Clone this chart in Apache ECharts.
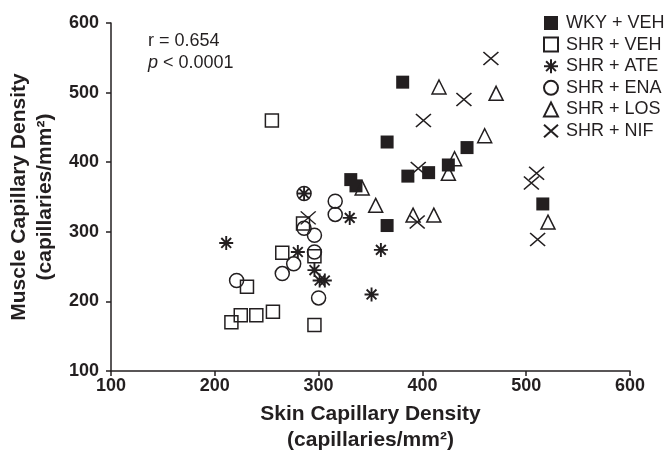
<!DOCTYPE html>
<html>
<head>
<meta charset="utf-8">
<script src="https://cdn.jsdelivr.net/npm/echarts@6/dist/echarts.min.js"></script>
<style>
  html, body { margin: 0; padding: 0; background: #fff; }
  #chart { width: 669px; height: 453px; }
</style>
</head>
<body>
<div id="chart"></div>
<script>
  // skin (x) / muscle (y) capillary density per group
  let groupNames = ['WKY + VEH', 'SHR + VEH', 'SHR + ATE', 'SHR + ENA', 'SHR + LOS', 'SHR + NIF']
  let wkyVehSkin = [381, 366, 443, 425, 386, 406, 331, 336, 366, 516]
  let wkyVehMuscle = [515, 429, 421, 396, 380, 385, 375, 366, 309, 340]
  let shrVehSkin = [255, 285, 265, 296, 231, 216, 225, 240, 256, 296]
  let shrVehMuscle = [460, 312, 270, 265, 221, 170, 180, 180, 185, 166]
  let shrAteSkin = [286, 330, 211, 280, 296, 301, 306, 360, 351]
  let shrAteMuscle = [355, 320, 284, 271, 245, 230, 230, 274, 210]
  let shrEnaSkin = [286, 316, 316, 286, 296, 296, 276, 265, 221, 300]
  let shrEnaMuscle = [355, 344, 325, 305, 295, 271, 254, 240, 230, 205]
  let shrLosSkin = [416, 471, 460, 431, 425, 342, 355, 391, 411, 521]
  let shrLosMuscle = [508, 499, 438, 405, 384, 363, 338, 324, 324, 314]
  let shrNifSkin = [466, 440, 401, 396, 290, 395, 510, 505, 511]
  let shrNifMuscle = [549, 490, 460, 391, 320, 314, 384, 370, 289]
  let xTicks = [100, 200, 300, 400, 500, 600]
  let yTicks = [100, 200, 300, 400, 500, 600]

  let ink = '#231f20'
  let font = '"Liberation Sans", Arial, sans-serif'

  function pairs(xs, ys) {
    return xs.map((v, i) => [v, ys[i]])
  }

  function makeSeries(name, xs, ys, symbol, size, filled, lw) {
    return {
      name: name,
      type: 'scatter',
      symbol: symbol,
      symbolSize: size,
      itemStyle: {
        color: filled ? ink : 'rgba(255,255,255,0)',
        borderColor: ink,
        borderWidth: filled ? 0 : (lw || 1.5),
        opacity: 1
      },
      emphasis: { disabled: true },
      data: pairs(xs, ys)
    }
  }

  let star = 'path://M0,-10L0,10M-10,0L10,0M-7,-7L7,7M-7,7L7,-7'
  let cross = 'path://M-10,-9L10,9M-10,9L10,-9'

  let myChart = echarts.init(document.getElementById('chart'))
  let option = {
    animation: false,
    textStyle: { fontFamily: font, color: ink },
    grid: {
      left: 111,
      right: 39,
      top: 23,
      bottom: 82,
      outerBoundsMode: 'none'
    },
    legend: {
      orient: 'vertical',
      left: 538,
      top: 9,
      itemWidth: 14,
      itemHeight: 14,
      itemGap: 3.6,
      data: groupNames,
      textStyle: { fontSize: 18, color: ink, fontFamily: font, padding: [0, 0, 0, 3] }
    },
    xAxis: {
      type: 'value',
      min: xTicks[0],
      max: xTicks[xTicks.length - 1],
      interval: 100,
      name: 'Skin Capillary Density\n(capillaries/mm²)',
      nameLocation: 'middle',
      nameGap: 30,
      nameTextStyle: { fontSize: 21, fontWeight: 'bold', color: ink, lineHeight: 26 },
      axisLine: { lineStyle: { color: ink, width: 1.5 } },
      axisTick: { show: true, length: 5, lineStyle: { color: ink, width: 1.5 } },
      axisLabel: { fontSize: 18, fontWeight: 'bold', color: ink, margin: 6 },
      splitLine: { show: false }
    },
    yAxis: {
      type: 'value',
      min: yTicks[0],
      max: yTicks[yTicks.length - 1],
      interval: 100,
      name: 'Muscle Capillary Density\n(capillaries/mm²)',
      nameLocation: 'middle',
      nameGap: 47,
      nameTextStyle: { fontSize: 21, fontWeight: 'bold', color: ink, lineHeight: 26 },
      axisLine: { show: true, lineStyle: { color: ink, width: 1.5 } },
      axisTick: { show: true, length: 5, lineStyle: { color: ink, width: 1.5 } },
      axisLabel: { fontSize: 18, fontWeight: 'bold', color: ink, margin: 12 },
      splitLine: { show: false }
    },
    graphic: [
      {
        type: 'text',
        left: 148,
        top: 32,
        style: { text: 'r = 0.654', font: '18px ' + font, fill: ink }
      },
      {
        type: 'text',
        left: 148,
        top: 54,
        style: {
          text: '{i|p} < 0.0001',
          font: '18px ' + font,
          fill: ink,
          rich: { i: { fontStyle: 'italic', fontSize: 18, fontFamily: font } }
        }
      }
    ],
    series: [
      makeSeries(groupNames[0], wkyVehSkin, wkyVehMuscle, 'rect', 13, true),
      makeSeries(groupNames[1], shrVehSkin, shrVehMuscle, 'rect', 13, false),
      makeSeries(groupNames[2], shrAteSkin, shrAteMuscle, star, 14, false, 1.9),
      makeSeries(groupNames[3], shrEnaSkin, shrEnaMuscle, 'circle', 14, false),
      makeSeries(groupNames[4], shrLosSkin, shrLosMuscle, 'triangle', 14, false),
      makeSeries(groupNames[5], shrNifSkin, shrNifMuscle, cross, [15, 13], false)
    ]
  }

  myChart.setOption(option)
</script>
</body>
</html>
